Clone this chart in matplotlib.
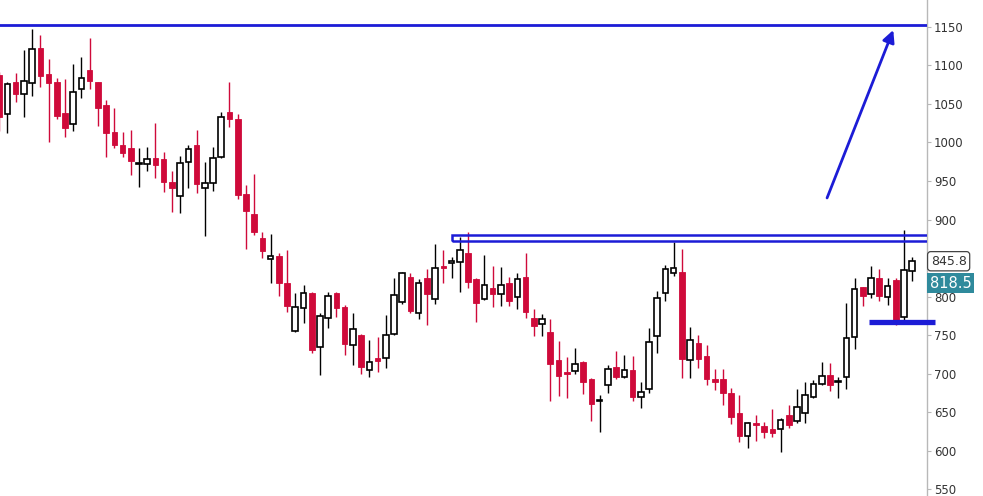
import numpy as np
import matplotlib
matplotlib.use("Agg")
from matplotlib import pyplot as plt
from matplotlib.patches import Rectangle
import matplotlib.transforms as mtransforms

# weekly candles: open, high, low, close
opens = [1088, 1037, 1078, 1063, 1077, 1123, 1089, 1078, 1038, 1024, 1069, 1094, 1078, 1049, 1014, 997,
         993, 972, 972, 980, 979, 949, 930, 975, 997, 941, 947, 981, 1040, 1031, 933, 907,
         876, 849, 853, 818, 755, 785, 805, 734, 772, 805, 786, 737, 750, 705, 720, 720,
         751, 793, 825, 779, 824, 797, 840, 844, 845, 856, 823, 797, 811, 803, 818, 800,
         825, 772, 764, 754, 718, 702, 703, 715, 693, 664, 685, 708, 695, 704, 669, 680,
         749, 805, 831, 832, 718, 740, 723, 693, 693, 675, 649, 619, 636, 632, 628, 628,
         646, 638, 649, 669, 686, 698, 689, 695, 747, 812, 803, 824, 800, 821, 773, 833]
highs = [1092, 1079, 1090, 1120, 1147, 1140, 1108, 1084, 1082, 1102, 1111, 1136, 1079, 1055, 1045, 1014,
         1016, 993, 994, 1025, 988, 963, 983, 997, 1016, 975, 994, 1040, 1079, 1037, 945, 959,
         884, 881, 856, 860, 805, 815, 806, 779, 806, 806, 789, 779, 751, 743, 747, 776,
         824, 832, 830, 823, 836, 868, 860, 851, 877, 884, 824, 854, 840, 838, 825, 830,
         856, 784, 777, 771, 742, 722, 733, 716, 694, 672, 711, 729, 724, 723, 689, 759,
         807, 841, 871, 862, 760, 750, 737, 706, 706, 681, 672, 637, 646, 637, 654, 642,
         659, 680, 689, 692, 715, 714, 695, 791, 824, 813, 840, 836, 824, 824, 886, 851]
lows = [1015, 1012, 1053, 1033, 1060, 1072, 1000, 1030, 1007, 1015, 1058, 1069, 1021, 981, 993, 981,
        958, 942, 963, 954, 936, 910, 908, 941, 934, 879, 937, 980, 1020, 927, 862, 880,
        850, 818, 801, 780, 754, 766, 727, 698, 759, 773, 724, 711, 700, 696, 702, 707,
        750, 790, 779, 771, 763, 790, 818, 824, 806, 811, 767, 795, 786, 788, 788, 784,
        772, 749, 749, 664, 671, 668, 700, 673, 638, 624, 675, 693, 694, 664, 655, 675,
        727, 794, 827, 694, 694, 707, 685, 679, 659, 634, 611, 603, 612, 616, 618, 598,
        629, 636, 636, 668, 685, 677, 668, 680, 732, 788, 798, 794, 789, 763, 767, 820]
closes = [1033, 1076, 1063, 1080, 1121, 1086, 1077, 1034, 1019, 1066, 1084, 1080, 1045, 1012, 997, 986,
          976, 973, 979, 971, 949, 941, 973, 991, 946, 947, 980, 1033, 1031, 932, 911, 884,
          859, 853, 818, 788, 786, 805, 731, 775, 801, 785, 739, 758, 708, 715, 716, 750,
          802, 831, 781, 818, 803, 837, 837, 846, 860, 819, 792, 815, 803, 815, 794, 823,
          780, 762, 771, 713, 697, 700, 712, 689, 661, 665, 706, 696, 704, 669, 676, 741,
          798, 836, 837, 719, 743, 719, 693, 689, 675, 644, 619, 636, 633, 624, 623, 640,
          633, 656, 672, 686, 697, 685, 690, 746, 810, 801, 824, 801, 814, 769, 834, 845.8]

yticks = [550, 600, 650, 700, 750, 800, 850, 900, 950, 1000, 1050, 1100, 1150]
# 850 sits under the last-price box in the reference
ytick_labels = ["" if v == 850 else str(v) for v in yticks]

target_level = 1152
resist_top, resist_bottom = 880.5, 872.5
support_level = 767
last_price = 845.8
other_price = 818.5

red = "#cf0a3a"
blue = "#1c1cd6"

fig = plt.figure(figsize=(9.83, 4.96), dpi=100)
ax = fig.add_axes([0, 0, 927 / 983, 1])

x = np.arange(len(opens))
o = np.array(opens, dtype=float)
c = np.array(closes, dtype=float)
h = np.array(highs, dtype=float)
l = np.array(lows, dtype=float)
up = c >= o

ax.vlines(x[up], l[up], h[up], color="black", lw=1.0, zorder=2)
ax.vlines(x[~up], l[~up], h[~up], color=red, lw=1.0, zorder=2)

body = np.maximum(np.abs(c - o), 1.0)
bottom = np.minimum(o, c)
ax.bar(x[up], body[up], bottom=bottom[up], width=0.68, facecolor="white",
       edgecolor="black", linewidth=1.2, zorder=3)
ax.bar(x[~up], body[~up], bottom=bottom[~up], width=0.68, facecolor=red,
       edgecolor=red, linewidth=0.6, zorder=3)

# drawn lines
ax.axhline(target_level, color=blue, lw=2.0, zorder=4)
ax.add_patch(Rectangle((55, resist_bottom), 200, resist_top - resist_bottom, fill=False,
                       edgecolor=blue, lw=1.8, zorder=4))
ax.plot([105.8, 113.8], [support_level, support_level], color=blue, lw=3.8,
        solid_capstyle="butt", clip_on=False, zorder=5)
ax.annotate("", xy=(108.7, 1146), xytext=(100.65, 928),
            arrowprops=dict(arrowstyle="-|>", color=blue, lw=2.0, mutation_scale=18,
                            shrinkA=0, shrinkB=0), zorder=5)

ax.set_xlim(0.1, 112.8)
ax.set_ylim(541, 1185)

for s in ["top", "left", "bottom"]:
    ax.spines[s].set_visible(False)
ax.spines["right"].set_color("#b8b8b8")
ax.spines["right"].set_linewidth(1.0)
ax.yaxis.tick_right()
ax.set_yticks(yticks)
ax.set_yticklabels(ytick_labels)
ax.tick_params(axis="y", length=3, width=0.8, color="#b8b8b8", labelsize=8.5,
               labelcolor="#333333", pad=2)
ax.set_xticks([])

trans = mtransforms.blended_transform_factory(ax.transAxes, ax.transData)
ax.text(1.004, last_price, f"{last_price:.1f}", transform=trans, fontsize=9,
        color="#333333", va="center", ha="left", zorder=6,
        bbox=dict(boxstyle="round,pad=0.25", facecolor="white", edgecolor="#444444", lw=0.9))
ax.text(1.003, other_price - 1, f"{other_price:.1f}", transform=trans, fontsize=10.5,
        color="white", va="center", ha="left", zorder=6,
        bbox=dict(boxstyle="square,pad=0.2", facecolor="#2f8a9c", edgecolor="none"))

fig.savefig("out.png", dpi=100)
